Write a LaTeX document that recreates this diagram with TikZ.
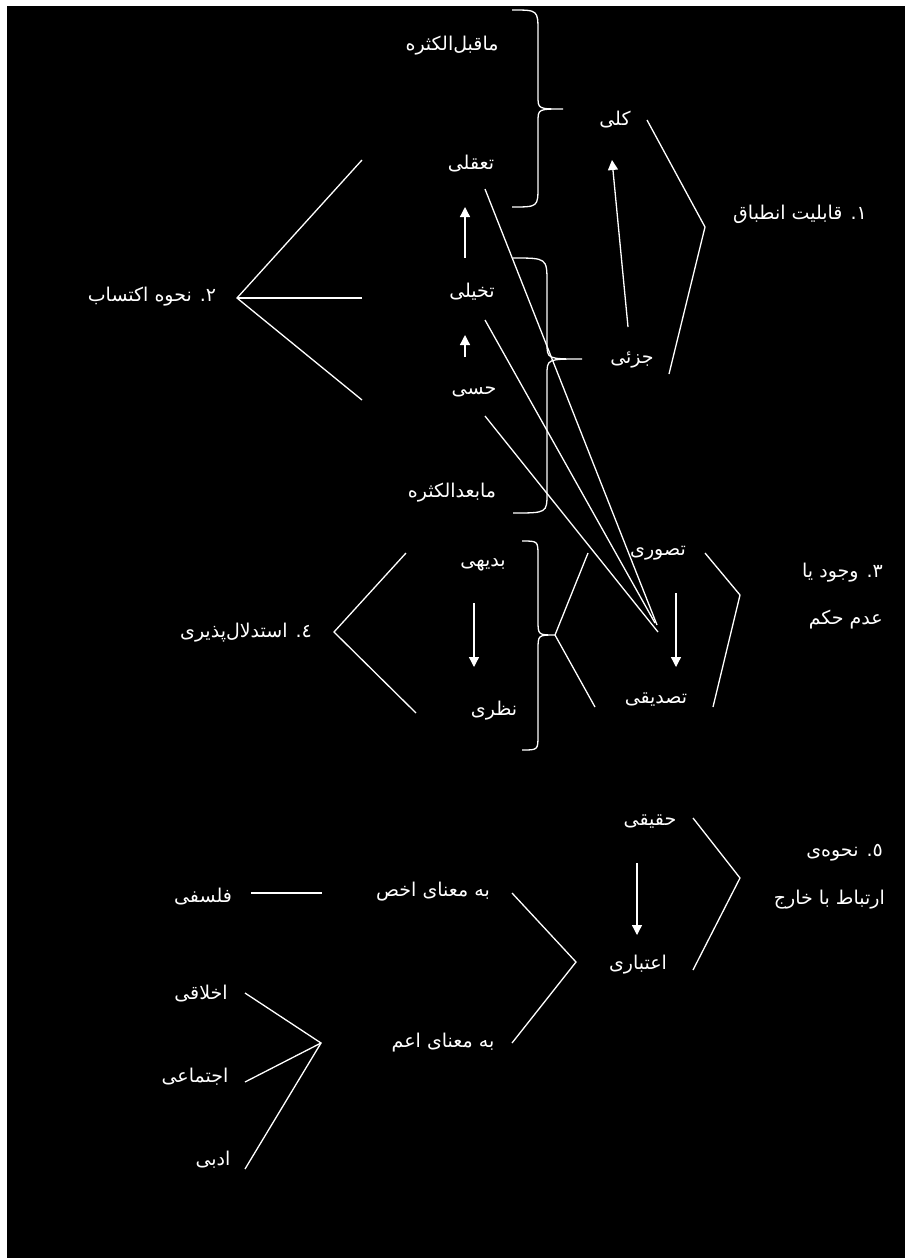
\documentclass[tikz,border=0pt]{standalone}
\usepackage{fontspec}
\newfontfamily\arfont[Script=Arabic]{DejaVu Sans}
\TeXXeTstate=1
\usetikzlibrary{arrows.meta}
\newcommand{\artxt}[1]{\beginR #1\endR}
\tikzset{
  lbl/.style={text=white,font=\arfont\fontsize{19}{22}\selectfont,inner sep=0pt},
  ln/.style={draw=white,line width=1.3pt},
  arr/.style={ln,-{Triangle[width=10pt,length=10pt]}},
  brc/.style={draw=white,line width=1.3pt}
}
\begin{document}
\begin{tikzpicture}[x=1pt,y=-1pt]
\useasboundingbox (0,0) rectangle (905,1258);
\fill[white] (0,0) rectangle (905,1258);
\fill[black] (7,6) rectangle (905,1258);

% ---------- text nodes ----------
\node[lbl] (maqabl) at (452,46) {\artxt{ماقبل‌الکثره}};
\node[lbl] (kolli) at (615,120) {\artxt{کلی}};
\node[lbl] (taaqoli) at (471,164) {\artxt{تعقلی}};
\node[lbl] (takhayoli) at (472,292) {\artxt{تخیلی}};
\node[lbl] (hessi) at (474,392) {\artxt{حسی}};
\node[lbl] (mabad) at (452,493) {\artxt{مابعدالکثره}};
\node[lbl] (jozi) at (632,360) {\artxt{جزئی}};
\node[lbl] (Lone) at (800,214) {\artxt{۱. قابلیت انطباق}};
\node[lbl] (Ltwo) at (152,297) {\artxt{۲. نحوه اکتساب}};
\node[lbl] (tasavori) at (658,553) {\artxt{تصوری}};
\node[lbl] (tasdiqi) at (656,700) {\artxt{تصدیقی}};
\node[lbl,anchor=east] (Lthreea) at (883,573) {\artxt{۳. وجود یا}};
\node[lbl,anchor=east] (Lthreeb) at (883,620) {\artxt{عدم حکم}};
\node[lbl] (badihi) at (483,565) {\artxt{بدیهی}};
\node[lbl] (nazari) at (494,711) {\artxt{نظری}};
\node[lbl] (Lfour) at (246,633) {\artxt{٤. استدلال‌پذیری}};
\node[lbl] (haqiqi) at (650,822) {\artxt{حقیقی}};
\node[lbl] (etebari) at (638,965) {\artxt{اعتباری}};
\node[lbl,anchor=east] (Lfivea) at (883,853) {\artxt{٥. نحوه‌ی}};
\node[lbl,anchor=east] (Lfiveb) at (885,900) {\artxt{ارتباط با خارج}};
\node[lbl] (akhas) at (433,892) {\artxt{به معنای اخص}};
\node[lbl] (falsafi) at (203,897) {\artxt{فلسفی}};
\node[lbl] (aam) at (443,1043) {\artxt{به معنای اعم}};
\node[lbl] (akhlaqi) at (201,994) {\artxt{اخلاقی}};
\node[lbl] (ejtemai) at (195,1077) {\artxt{اجتماعی}};
\node[lbl] (adabi) at (213,1160) {\artxt{ادبی}};

% ---------- coordinates ----------
% section 1
\coordinate (oa) at (647,120); \coordinate (ov) at (705,227); \coordinate (ob) at (669,374);
\coordinate (jz) at (628,327); \coordinate (kl) at (612,160);
% section 2
\coordinate (tv) at (237,298);
\coordinate (ta) at (362,160); \coordinate (tb) at (362,298); \coordinate (tc) at (362,400);
\coordinate (khA) at (465,258); \coordinate (khB) at (465,207);
\coordinate (hsA) at (465,357); \coordinate (hsB) at (465,335);
% convergence to tasdiqi
\coordinate (cq) at (485,189); \coordinate (cqe) at (657,625);
\coordinate (ck) at (485,320); \coordinate (cke) at (655,623);
\coordinate (ch) at (485,416); \coordinate (che) at (658,632);
% section 3
\coordinate (ra) at (705,553); \coordinate (rv) at (740,595); \coordinate (rb) at (713,707);
\coordinate (la) at (588,553); \coordinate (lv) at (555,635); \coordinate (lb) at (595,707);
\coordinate (svA) at (676,593); \coordinate (svB) at (676,667);
% section 4
\coordinate (fa) at (406,553); \coordinate (fv) at (334,632); \coordinate (fb) at (416,713);
\coordinate (bdA) at (474,603); \coordinate (bdB) at (474,667);
% section 5
\coordinate (pa) at (693,818); \coordinate (pv) at (740,878); \coordinate (pb) at (693,970);
\coordinate (hqA) at (637,863); \coordinate (hqB) at (637,935);
\coordinate (qa) at (512,893); \coordinate (qv) at (576,962); \coordinate (qb) at (512,1043);
\coordinate (flA) at (251,893); \coordinate (flB) at (322,893);
\coordinate (mv) at (321,1043);
\coordinate (ma) at (245,993); \coordinate (mb) at (245,1082); \coordinate (mc) at (245,1169);

% ---------- connectors ----------
\draw[ln] (oa) -- (ov) -- (ob);
\draw[arr] (jz) -- (kl);
\draw[ln] (ta) -- (tv) -- (tc);
\draw[ln] (tv) -- (tb);
\draw[arr] (khA) -- (khB);
\draw[arr] (hsA) -- (hsB);
\draw[ln] (cq) -- (cqe);
\draw[ln] (ck) -- (cke);
\draw[ln] (ch) -- (che);
\draw[ln] (ra) -- (rv) -- (rb);
\draw[ln] (la) -- (lv) -- (lb);
\draw[arr] (svA) -- (svB);
\draw[ln] (fa) -- (fv) -- (fb);
\draw[arr] (bdA) -- (bdB);
\draw[ln] (pa) -- (pv) -- (pb);
\draw[arr] (hqA) -- (hqB);
\draw[ln] (qa) -- (qv) -- (qb);
\draw[ln] (flA) -- (flB);
\draw[ln] (ma) -- (mv) -- (mc);
\draw[ln] (mv) -- (mb);

% ---------- braces ----------
\draw[brc] (512,10) .. controls (538,10) .. (538,32) -- (538,96)
  .. controls (538,109) .. (563,109) .. controls (538,109) .. (538,122)
  -- (538,186) .. controls (538,207) .. (512,207);
\draw[brc] (513,258) .. controls (547,258) .. (547,283) -- (547,343)
  .. controls (547,359) .. (582,359) .. controls (547,359) .. (547,375)
  -- (547,493) .. controls (547,513) .. (513,513);
\draw[brc] (522,541) .. controls (538,541) .. (538,556) -- (538,620)
  .. controls (538,635) .. (555,635) .. controls (538,635) .. (538,650)
  -- (538,735) .. controls (538,750) .. (522,750);
\end{tikzpicture}
\end{document}
